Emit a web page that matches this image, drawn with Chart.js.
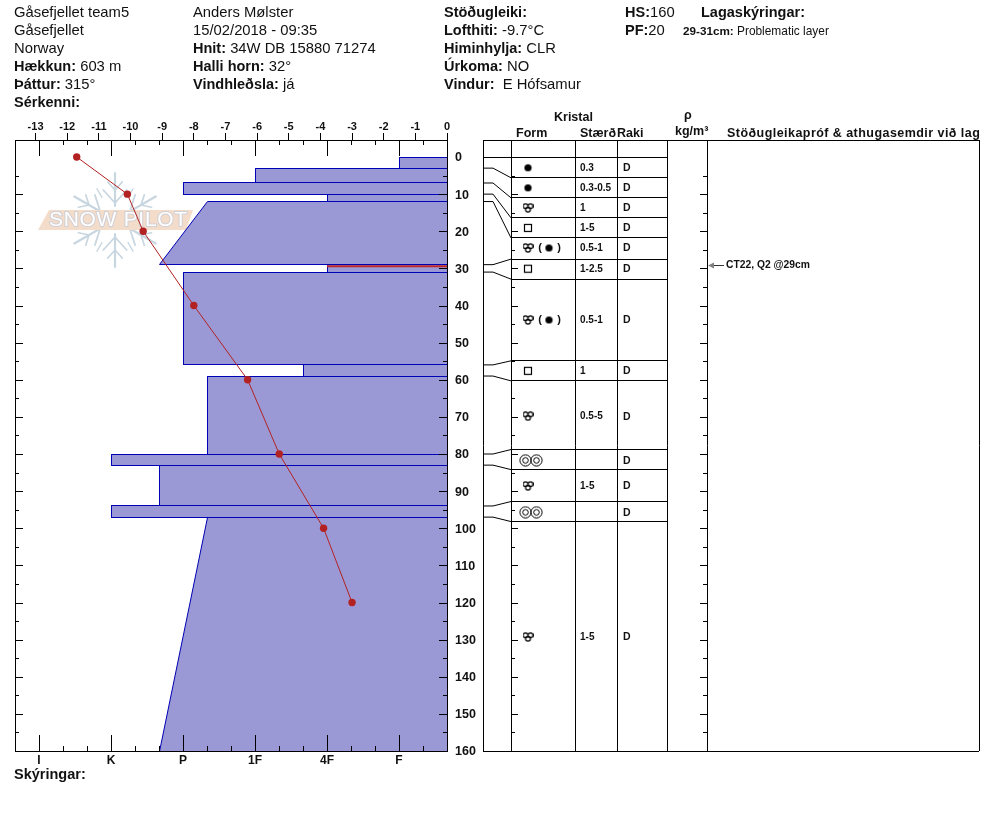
<!DOCTYPE html>
<html><head><meta charset="utf-8">
<script src="https://cdn.jsdelivr.net/npm/chart.js@4"></script>
<style>
html,body{margin:0;padding:0;background:#fff;width:994px;height:840px;overflow:hidden}
canvas{position:absolute;top:0}
.t{position:absolute;white-space:pre;font:14.8px/18px "Liberation Sans",Arial,sans-serif;color:#111}
.t b{font-weight:bold;font-size:14.5px}
.h{position:absolute;white-space:pre;font:bold 12.5px/14px "Liberation Sans",Arial,sans-serif;color:#111}
</style></head><body>
<canvas id="profile" width="483" height="840" style="left:0"></canvas>
<canvas id="table" width="524" height="840" style="left:470px"></canvas>
<div id="labels"></div>
<script>
// ---- header text ----
const headerLines = [
 [14,3,'Gåsefjellet team5'],[14,21,'Gåsefjellet'],[14,39,'Norway'],
 [14,57,'<b>Hækkun:</b> 603 m'],[14,75,'<b>Þáttur:</b> 315°'],[14,93,'<b>Sérkenni:</b>'],
 [193,3,'Anders Mølster'],[193,21,'15/02/2018 - 09:35'],[193,39,'<b>Hnit:</b> 34W DB 15880 71274'],
 [193,57,'<b>Halli horn:</b> 32°'],[193,75,'<b>Vindhleðsla:</b> já'],
 [444,3,'<b>Stöðugleiki:</b>'],[444,21,'<b>Lofthiti:</b> -9.7°C'],[444,39,'<b>Himinhylja:</b> CLR'],
 [444,57,'<b>Úrkoma:</b> NO'],[444,75,'<b>Vindur:</b>  E Hófsamur'],
 [625,3,'<b>HS:</b>160'],[701,3,'<b>Lagaskýringar:</b>'],[625,21,'<b>PF:</b>20'],
 [14,765,'<b>Skýringar:</b>']
];
const smallNote = [683,22,'<b>29-31cm:</b> Problematic layer'];
const tableHeads = [[554,110,'Kristal'],[516,126,'Form'],[580,126,'Stærð'],[617,126,'Raki'],[684,108,'ρ'],[675,124,'kg/m³'],[727,126,'Stöðugleikapróf & athugasemdir við lag']];

// ---- hardness profile (I=1, K=2, P=3, 1F=4, 4F=5, F=6) ----
const hardnessNames = ['I','K','P','1F','4F','F'];
const layerTop      = [0,3,7,10,12,29,31,56,59,80,83,94,97];
const layerBottom   = [3,7,10,12,29,31,56,59,80,83,94,97,160];
const hardAtTop     = [6,4,3,5,3.33,5,3,4.67,3.33,2,2.67,2,3.33];
const hardAtBottom  = [6,4,3,5,2.67,5,3,4.67,3.33,2,2.67,2,2.67];

// ---- temperature profile ----
const tempDepth  = [0,10,20,40,60,80,100,120];
const tempValue  = [-11.7,-10.1,-9.6,-8.0,-6.3,-5.3,-3.9,-3.0];
const tempTicks  = [-13,-12,-11,-10,-9,-8,-7,-6,-5,-4,-3,-2,-1,0];
const depthTicks = [0,10,20,30,40,50,60,70,80,90,100,110,120,130,140,150,160];
const problemDepth = 29.4;

// ---- crystal table ----
const rowDepths = [5.6,11,16.4,21.8,27.5,32.9,54.9,60.3,78.8,84.2,92.8,98.2];
const layerEdges = [3,7,10,12,29,31,56,59,80,83,94,97];
const rowCentre = [2.9,8.3,13.7,19.1,24.5,30.1,43.9,57.6,69.8,81.7,88.6,95.7,129.3];
const grainPrimary   = ['round','round','facet','box','facet','box','facet','box','facet','ring','facet','ring','facet'];
const grainSecondary = ['','','','','round','','round','','','','','',''];
const grainSize = ['0.3','0.3-0.5','1','1-5','0.5-1','1-2.5','0.5-1','1','0.5-5','','1-5','','1-5'];
const moisture  = ['D','D','D','D','D','D','D','D','D','D','D','D','D'];
const testNote = 'CT22, Q2 @29cm';
const testDepth = 29;

const FONT = '"Liberation Sans",Arial,sans-serif';
const INK = '#000', BAR = '#9b99d5', EDGE = '#0000b4', RED = '#b22222';

const lbl = document.getElementById('labels');
headerLines.forEach(([x,y,s])=>{const d=document.createElement('div');d.className='t';d.style.left=x+'px';d.style.top=y+'px';d.innerHTML=s;lbl.appendChild(d);});
{const d=document.createElement('div');d.className='t';d.style.cssText=`left:${smallNote[0]}px;top:${smallNote[1]}px;font-size:11.9px`;d.innerHTML=smallNote[2];d.firstChild.style.fontSize='11.7px';lbl.appendChild(d);}
tableHeads.forEach(([x,y,s])=>{const d=document.createElement('div');d.className='h';d.style.left=x+'px';d.style.top=y+'px';d.textContent=s;if(s.startsWith('Stö'))d.style.letterSpacing='0.45px';lbl.appendChild(d);});

// snaps horizontal/vertical edges of flagged datasets to the pixel grid
const crisp = {id:'crisp',afterDatasetsUpdate(chart){
  chart.data.datasets.forEach((ds,i)=>{ if(!ds.crisp) return;
    chart.getDatasetMeta(i).data.forEach(p=>{ if(!p.skip){p.y=Math.floor(p.y)+.5;p.x=Math.round(p.x)+.5;} });
  });
}};
const line=(c,x1,y1,x2,y2)=>{c.beginPath();c.moveTo(x1,y1);c.lineTo(x2,y2);c.stroke();};

// watermark logo
const logo = {id:'logo',beforeDatasetsDraw(chart){
  const c=chart.ctx; c.save();
  const cx=115,cy=220,R=47; c.strokeStyle='#c8d6e0'; c.lineCap='round';
  for(let k=0;k<6;k++){
    const a=Math.PI/2+k*Math.PI/3; const ux=Math.cos(a),uy=Math.sin(a);
    const vx=-uy,vy=ux;
    c.lineWidth=2.2; line(c,cx+ux*14,cy+uy*14,cx+ux*R,cy+uy*R);
    c.lineWidth=1.7;
    [[17,13],[30,8]].forEach(([p,s])=>{
      const bx=cx+ux*p,by=cy+uy*p;
      line(c,bx,by,bx+(ux+vx*.9)*s,by+(uy+vy*.9)*s);
      line(c,bx,by,bx+(ux-vx*.9)*s,by+(uy-vy*.9)*s);
    });
    const b=a+Math.PI/6; c.lineWidth=1.4;
    line(c,cx+Math.cos(b)*26,cy+Math.sin(b)*26,cx+Math.cos(b)*36,cy+Math.sin(b)*36);
  }
  c.fillStyle='#f3dcc9'; c.beginPath(); c.moveTo(38,230); c.lineTo(49,210); c.lineTo(193,210); c.lineTo(186,230); c.closePath(); c.fill();
  c.font='21px '+FONT; c.textBaseline='middle'; c.textAlign='left';
  if('letterSpacing' in c) c.letterSpacing='0.7px';
  c.strokeStyle='#cfcfd6'; c.lineWidth=2; c.strokeText('SNOW PILOT',49,220.5);
  c.fillStyle='#ffffff'; c.fillText('SNOW PILOT',49,220.5);
  c.restore();
}};

// inward ticks and frame of the profile
const frame = {id:'frame',afterDatasetsDraw(chart){
  const c=chart.ctx,{left,right,top,bottom}=chart.chartArea,sx=chart.scales.xHard,sy=chart.scales.y;
  c.save(); c.strokeStyle=INK; c.lineWidth=1;
  for(let n=2;n<=19;n++){
    const v=n/3, x=Math.round(sx.getPixelForValue(v))+.5, L=(n%3===0)?16:5;
    line(c,x,top,x,top+L); line(c,x,bottom,x,bottom-L);
  }
  for(let d=5;d<160;d+=5){
    const y=Math.round(sy.getPixelForValue(d))+.5, L=(d%10===0)?8:4;
    line(c,left,y,left+L,y); line(c,right,y,right-L,y);
  }
  c.strokeRect(Math.round(left)+.5,Math.round(top)+.5,Math.round(right-left),Math.round(bottom-top));
  c.restore();
}};

const layerDatasets = layerTop.map((t,i)=>({
  data:[{x:6.667,y:t},{x:hardAtTop[i],y:t},{x:hardAtBottom[i],y:layerBottom[i]},{x:6.667,y:layerBottom[i]},{x:6.667,y:t}],
  xAxisID:'xHard',yAxisID:'y',showLine:true,pointRadius:0,fill:'shape',backgroundColor:BAR,borderColor:EDGE,borderWidth:1,crisp:true
}));
new Chart(document.getElementById('profile'),{
  type:'scatter',
  data:{datasets:[
    {data:tempDepth.map((d,i)=>({x:tempValue[i],y:d})),xAxisID:'xTemp',yAxisID:'y',showLine:true,borderColor:RED,borderWidth:1,pointRadius:3.7,pointBackgroundColor:RED,pointBorderWidth:0,pointHoverRadius:3.7,clip:false},
    {data:[{x:5,y:problemDepth},{x:6.667,y:problemDepth}],xAxisID:'xHard',yAxisID:'y',showLine:true,borderColor:'#c02828',borderWidth:2,pointRadius:0},
    ...layerDatasets
  ]},
  options:{responsive:false,animation:false,devicePixelRatio:1,
    layout:{padding:{left:15,right:0,top:0,bottom:0}},
    plugins:{legend:{display:false},tooltip:{enabled:false}},
    scales:{
      xTemp:{type:'linear',position:'top',min:-13.65,max:0,
        afterBuildTicks:s=>{s.ticks=tempTicks.map(v=>({value:v}));},
        afterFit:s=>{s.height=140;},
        grid:{drawOnChartArea:false,tickLength:7,tickColor:INK,lineWidth:1},border:{display:false},
        ticks:{autoSkip:false,maxRotation:0,padding:-1,color:'#111',labelOffset:0,font:{family:FONT,size:11,weight:'bold'},callback:v=>String(v)}},
      xHard:{type:'linear',position:'bottom',min:2/3,max:6.667,
        afterBuildTicks:s=>{s.ticks=hardnessNames.map((_,i)=>({value:i+1}));},
        afterFit:s=>{s.height=89;},
        grid:{display:false,drawTicks:false},border:{display:false},
        ticks:{autoSkip:false,maxRotation:0,padding:2,color:'#111',labelOffset:0,font:{family:FONT,size:12,weight:'bold'},callback:v=>hardnessNames[Math.round(v)-1]}},
      y:{type:'linear',position:'right',reverse:true,min:-4.58,max:160,
        afterBuildTicks:s=>{s.ticks=depthTicks.map(v=>({value:v}));},
        afterFit:s=>{s.width=36;},
        grid:{display:false,drawTicks:false},border:{display:false},
        ticks:{autoSkip:false,padding:8,color:'#111',labelOffset:1,font:{family:FONT,size:12.5,weight:'bold'},callback:v=>String(v)}}
    }
  },
  plugins:[crisp,logo,frame]
});

// ---- crystal table ----
const columnEdges=[0,28,92,134,184,224,496];
const flatEnd=10, sizeCol=97, moistCol=140, symCol=45, sym2Col=66, ringShift=3;
function sprite(w,h,draw){const s=document.createElement('canvas');s.width=w;s.height=h;const c=s.getContext('2d');c.strokeStyle=INK;c.fillStyle=INK;c.lineWidth=1;draw(c);return s;}
const styles={
  round:sprite(9,9,c=>{c.beginPath();c.arc(4.5,4.5,3.6,0,7);c.fill();}),
  box:sprite(10,10,c=>{c.lineWidth=1.2;c.strokeRect(1.5,1.5,7,7);}),
  facet:sprite(11,10,c=>{c.lineWidth=1.2;[[3,3.2],[8,3.2],[5.5,6.8]].forEach(([x,y])=>{c.beginPath();c.arc(x,y,2.4,0,7);c.stroke();});}),
  ring:sprite(24,13,c=>{[6.5,17.5].forEach(x=>{[5.6,2.8].forEach(r=>{c.beginPath();c.arc(x,6.5,r,0,7);c.stroke();});});})
};
const gap={x:null,y:null};
const connectorPts=[]; layerEdges.forEach((d,i)=>{connectorPts.push({x:0,y:d},{x:flatEnd,y:d},{x:columnEdges[1],y:rowDepths[i]},gap);});
const rowPts=[{x:0,y:0},{x:columnEdges[4],y:0},gap]; rowDepths.forEach(d=>{rowPts.push({x:columnEdges[1],y:d},{x:columnEdges[4],y:d},gap);});
const symbolSets=[];
Object.keys(styles).forEach(k=>{
  const pts=[];
  grainPrimary.forEach((g,i)=>{if(g===k)pts.push({x:symCol+(k==='ring'?ringShift:0),y:rowCentre[i]});});
  grainSecondary.forEach((g,i)=>{if(g===k)pts.push({x:sym2Col,y:rowCentre[i]});});
  symbolSets.push({data:pts,pointStyle:styles[k],showLine:false});
});
const cells={id:'cells',afterDatasetsDraw(chart){
  const c=chart.ctx,sx=chart.scales.x,sy=chart.scales.y; c.save();
  c.fillStyle='#111'; c.textBaseline='middle'; c.textAlign='left';
  rowCentre.forEach((d,i)=>{
    const y=sy.getPixelForValue(d)+.5;
    c.font='bold 10px '+FONT; c.fillText(grainSize[i],sx.getPixelForValue(sizeCol),y);
    c.font='bold 10.5px '+FONT; c.fillText(moisture[i],sx.getPixelForValue(moistCol),y);
    if(grainSecondary[i]){c.font='bold 11px '+FONT;c.textAlign='center';
      c.fillText('(',sx.getPixelForValue(57),y-.5);c.fillText(')',sx.getPixelForValue(76),y-.5);c.textAlign='left';}
  });
  c.strokeStyle=INK;c.lineWidth=1;
  for(let d=5;d<160;d+=5){
    const y=Math.round(sy.getPixelForValue(d))+.5,L=(d%10===0)?7:4;
    const a=sx.getPixelForValue(columnEdges[1]),b=sx.getPixelForValue(columnEdges[5]);
    line(c,a,y,a+L,y);line(c,b,y,b-L,y);
  }
  const ty=Math.round(sy.getPixelForValue(testDepth))+.5,x0=sx.getPixelForValue(225);
  c.strokeStyle='#333';line(c,x0+4,ty,x0+16,ty);
  c.fillStyle='#808080';c.beginPath();c.moveTo(x0,ty);c.lineTo(x0+6,ty-3);c.lineTo(x0+6,ty+3);c.closePath();c.fill();
  c.fillStyle='#111';c.font='bold 10.3px '+FONT;c.fillText(testNote,x0+18,ty);
  c.restore();
}};
new Chart(document.getElementById('table'),{
  type:'scatter',
  data:{datasets:[
    ...symbolSets,
    {data:connectorPts,showLine:true,borderColor:INK,borderWidth:1,pointRadius:0,spanGaps:false},
    {data:rowPts,showLine:true,borderColor:INK,borderWidth:1,pointRadius:0,spanGaps:false,crisp:true}
  ]},
  options:{responsive:false,animation:false,devicePixelRatio:1,
    layout:{padding:{left:13,right:15,top:140,bottom:89}},
    plugins:{legend:{display:false},tooltip:{enabled:false}},
    scales:{
      x:{type:'linear',position:'bottom',min:0,max:496,
        afterBuildTicks:s=>{s.ticks=columnEdges.map(v=>({value:v}));},
        grid:{color:INK,lineWidth:1,drawTicks:false},border:{display:false},
        ticks:{display:false,autoSkip:false}},
      y:{type:'linear',position:'left',reverse:true,min:-4.58,max:160,
        afterBuildTicks:s=>{s.ticks=[{value:-4.58},{value:160}];},
        grid:{color:INK,lineWidth:1,drawTicks:false},border:{display:false},
        ticks:{display:false,autoSkip:false}}
    }
  },
  plugins:[crisp,cells]
});
</script>
</body></html>
